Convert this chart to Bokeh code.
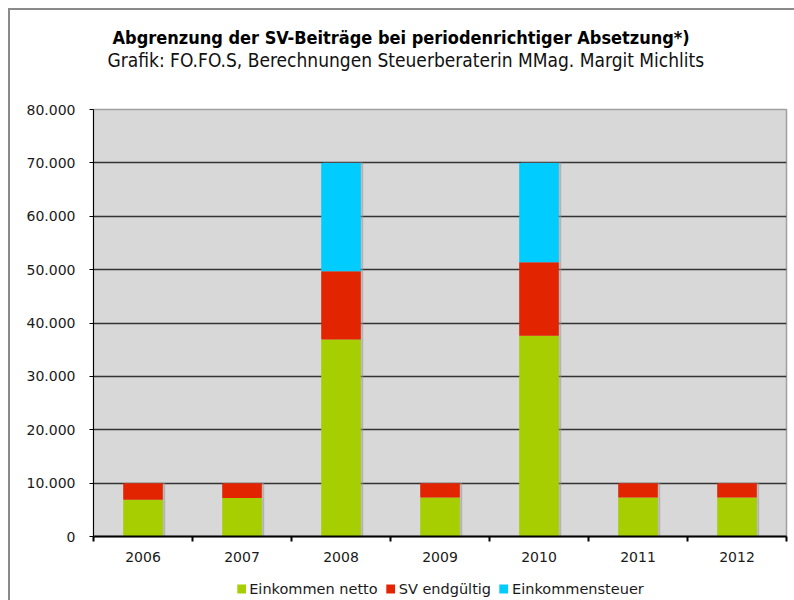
from bokeh.plotting import figure
from bokeh.models import ColumnDataSource, FixedTicker, Legend, LegendItem, Title, Range1d
from bokeh.layouts import column
from bokeh.embed import file_html
from bokeh.resources import INLINE

years = ["2006", "2007", "2008", "2009", "2010", "2011", "2012"]
einkommen_netto = [6900, 7200, 36900, 7300, 37600, 7300, 7300]
sv_endgueltig = [3100, 2800, 12800, 2700, 13800, 2700, 2700]
einkommensteuer = [0, 0, 20300, 0, 18600, 0, 0]
series_names = ["Einkommen netto", "SV endgültig", "Einkommensteuer"]
series_colors = ["#a6ce00", "#e32400", "#00ccff"]
y_ticks = [0, 10000, 20000, 30000, 40000, 50000, 60000, 70000, 80000]
y_tick_labels = ["0", "10.000", "20.000", "30.000", "40.000", "50.000", "60.000", "70.000", "80.000"]

xs = [i + 0.5 for i in range(len(years))]
totals = [a + b + c for a, b, c in zip(einkommen_netto, sv_endgueltig, einkommensteuer)]
source = ColumnDataSource(dict(x=xs, netto=einkommen_netto, sv=sv_endgueltig, est=einkommensteuer,
                               shadow_x=[x + 0.02 for x in xs], total=totals))

p = figure(width=784, height=567, x_range=Range1d(0, len(years)), y_range=Range1d(0, 80000),
           output_backend="svg", toolbar_location=None,
           min_border_left=83, min_border_right=4, min_border_bottom=41, min_border_top=99,
           background_fill_color="#d8d8d8", border_fill_color="white",
           outline_line_color="#a0a0a0", outline_line_width=1.5)

p.vbar(x="shadow_x", top="total", width=0.4, source=source, color="#9a9a9a", alpha=0.45)
renderers = p.vbar_stack(["netto", "sv", "est"], x="x", width=0.4, source=source,
                         color=series_colors, line_color=None)

p.xgrid.visible = False
p.ygrid.ticker = FixedTicker(ticks=y_ticks[1:-1])
p.ygrid.grid_line_color = "#333333"
p.ygrid.grid_line_width = 1.5
p.ygrid.level = "underlay"

xa = p.xaxis[0]
xa.ticker = FixedTicker(ticks=xs, minor_ticks=list(range(len(years) + 1)))
xa.major_label_overrides = {x: y for x, y in zip(xs, years)}
xa.major_tick_out = 0
xa.major_tick_in = 0
xa.minor_tick_out = 5
xa.minor_tick_in = 0
xa.minor_tick_line_color = "black"
xa.minor_tick_line_width = 2
xa.axis_line_color = "black"
xa.axis_line_width = 2
xa.major_label_standoff = 10
xa.major_label_text_font = "DejaVu Sans"
xa.major_label_text_font_size = "14px"
xa.major_label_text_color = "#1a1a1a"

ya = p.yaxis[0]
ya.ticker = FixedTicker(ticks=y_ticks)
ya.major_label_overrides = {t: l for t, l in zip(y_ticks, y_tick_labels)}
ya.major_tick_out = 4
ya.major_tick_in = 0
ya.major_tick_line_color = "black"
ya.axis_line_color = "black"
ya.axis_line_width = 1
ya.major_label_standoff = 14
ya.major_label_text_font = "DejaVu Sans"
ya.major_label_text_font_size = "14px"
ya.major_label_text_color = "#1a1a1a"

p.add_layout(Title(text=" ", text_font_size="22px"), "above")
p.add_layout(Title(text="Grafik: FO.FO.S, Berechnungen Steuerberaterin MMag. Margit Michlits",
                   align="left", offset=14, text_font="DejaVu Sans Condensed", text_font_size="19px",
                   text_font_style="normal", text_color="#111111", standoff=3), "above")
p.add_layout(Title(text="Abgrenzung der SV-Beiträge bei periodenrichtiger Absetzung*)",
                   align="left", offset=19, text_font="DejaVu Sans Condensed", text_font_size="18px",
                   text_font_style="bold", text_color="#000000", standoff=-4), "above")

# legend strip below the chart; its copy of the stacked bars is hidden,
# only the legend entries are drawn
lp = figure(width=784, height=23, x_range=Range1d(0, len(years)), y_range=Range1d(0, 80000),
            output_backend="svg", toolbar_location=None,
            x_axis_location=None, y_axis_location=None,
            min_border_left=80, min_border_right=8, min_border_top=0, min_border_bottom=0,
            outline_line_color=None, border_fill_color="white", background_fill_color="white")
lp.grid.visible = False
legend_renderers = lp.vbar_stack(["netto", "sv", "est"], x="x", width=0.4, source=source,
                                 color=series_colors, line_color=None)
for r in legend_renderers:
    r.visible = False
legend = Legend(items=[LegendItem(label=n, renderers=[r]) for n, r in zip(series_names, legend_renderers)],
                orientation="horizontal", location="center",
                border_line_color=None, background_fill_alpha=0,
                glyph_width=11, glyph_height=11, label_standoff=3, spacing=7,
                label_text_font="DejaVu Sans", label_text_font_size="14.5px",
                label_text_color="#1a1a1a", padding=0, margin=0,
                inactive_fill_alpha=0)
lp.add_layout(legend, "center")

layout = column(p, lp, spacing=0)
layout.margin = (8, 0, 0, 8)
layout.styles = {"border-left": "2px solid #8a8a8a", "border-top": "2px solid #8a8a8a"}

open("out.html", "w").write(file_html(layout, INLINE))
